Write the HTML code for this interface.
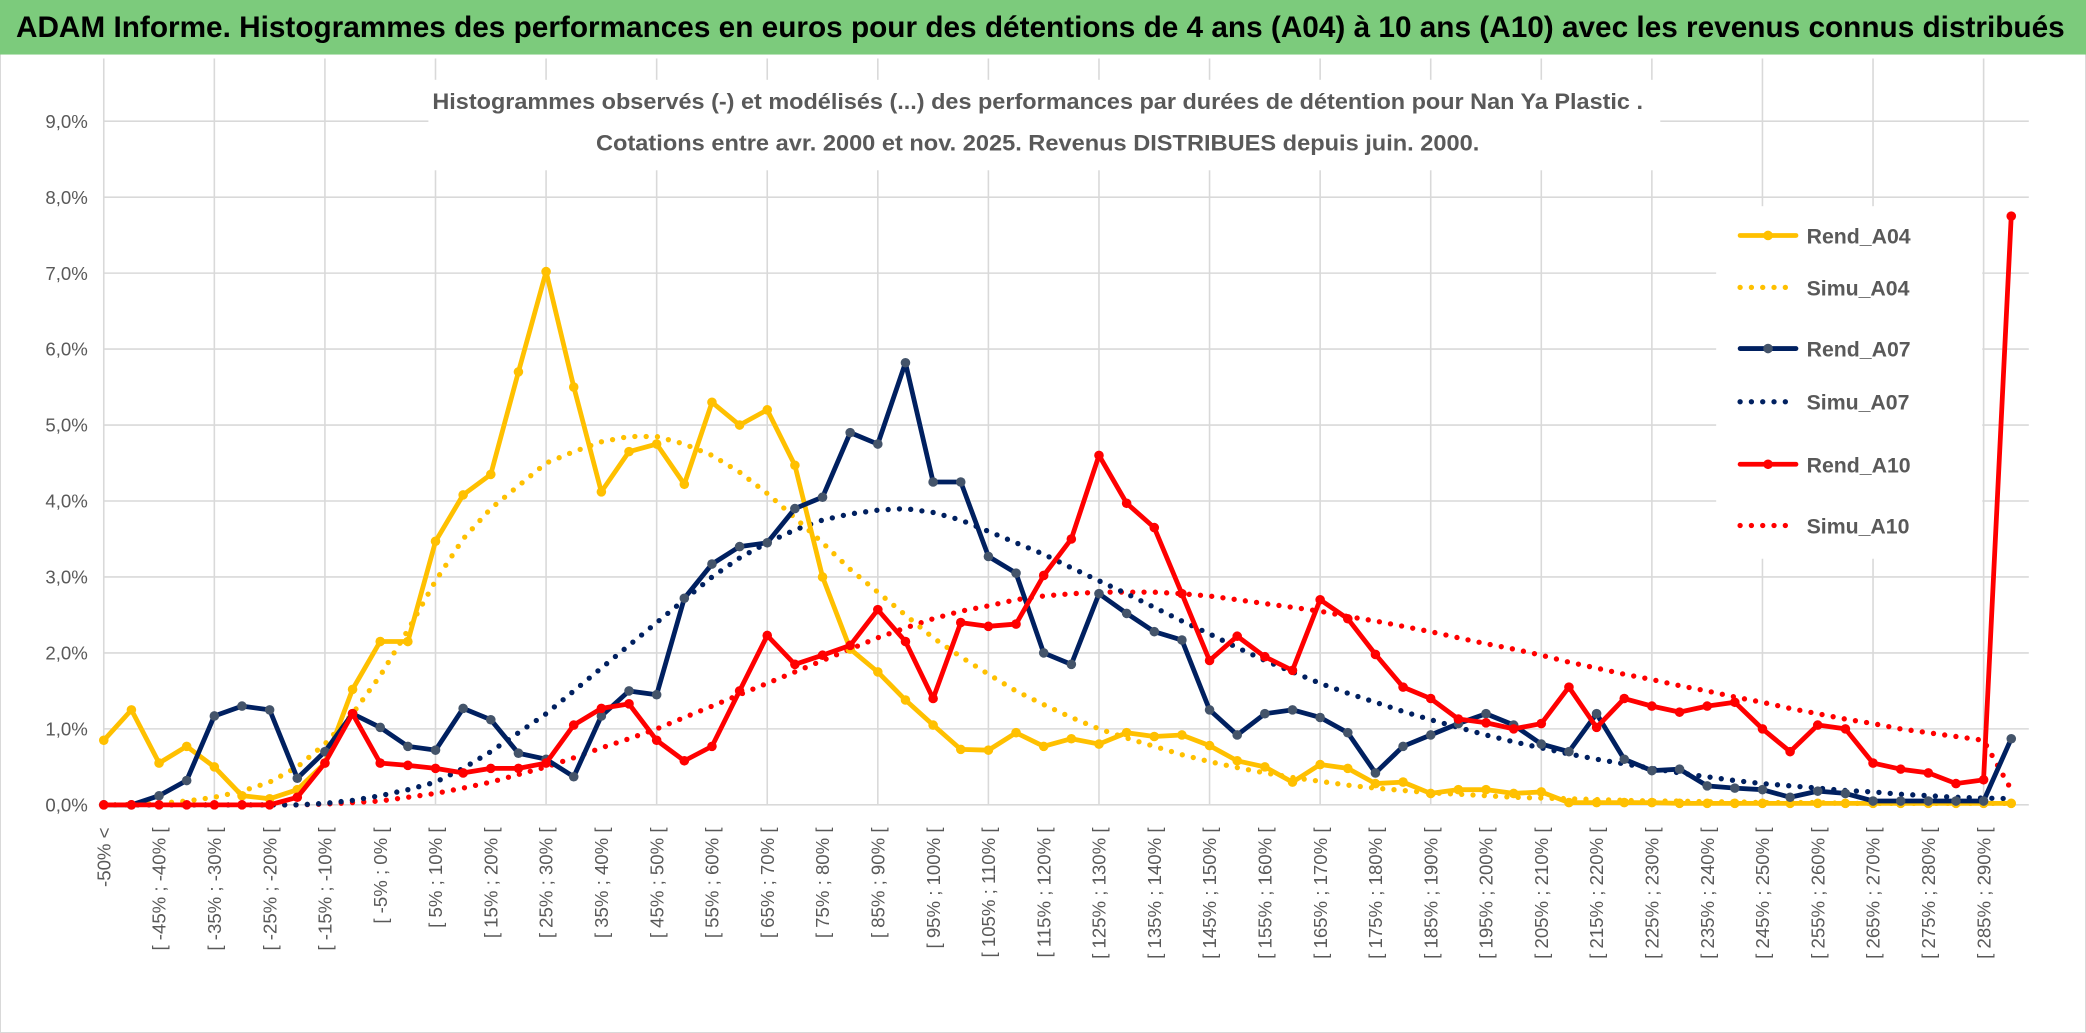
<!DOCTYPE html>
<html><head><meta charset="utf-8"><style>
html,body{margin:0;padding:0;background:#fff;}
svg{display:block;font-family:"Liberation Sans",sans-serif;}
</style></head><body>
<svg id="chart" width="2086" height="1033" viewBox="0 0 1568 776.5" preserveAspectRatio="none" xmlns="http://www.w3.org/2000/svg">
<rect x="0" y="0" width="1568" height="776.5" fill="#fff" stroke="#d9d9d9" stroke-width="1.5"/>
<rect x="0" y="0" width="1568" height="41" fill="#7ccb7c"/>
<text x="12" y="28" font-size="22" font-weight="bold" fill="#000" textLength="1540" lengthAdjust="spacingAndGlyphs">ADAM Informe. Histogrammes des performances en euros pour des détentions de 4 ans (A04) à 10 ans (A10) avec les revenus connus distribués</text>
<g id="grid"></g>
<g id="yaxis"></g>
<g id="xaxis"></g>
<rect x="322" y="60" width="926" height="68" fill="#fff"/>
<text x="780" y="82" font-size="17" font-weight="bold" fill="#595959" text-anchor="middle" textLength="910" lengthAdjust="spacingAndGlyphs">Histogrammes observés (-) et modélisés (...) des performances par durées de détention pour Nan Ya Plastic .</text>
<text x="780" y="113" font-size="17" font-weight="bold" fill="#595959" text-anchor="middle" textLength="664" lengthAdjust="spacingAndGlyphs">Cotations entre avr. 2000 et nov. 2025. Revenus DISTRIBUES depuis juin. 2000.</text>
<g id="series"></g>
<g id="legend"></g>
</svg>
<script>
const rendA04=[0.85,1.25,0.55,0.77,0.5,0.12,0.08,0.2,0.55,1.52,2.15,2.15,3.47,4.08,4.35,5.7,7.02,5.5,4.12,4.65,4.75,4.22,5.3,5.0,5.2,4.47,3.0,2.05,1.75,1.38,1.05,0.73,0.72,0.95,0.77,0.87,0.8,0.95,0.9,0.92,0.78,0.58,0.5,0.3,0.53,0.48,0.28,0.3,0.15,0.2,0.2,0.15,0.17,0.03,0.03,0.03,0.03,0.02,0.02,0.02,0.02,0.02,0.02,0.02,0.02,0.02,0.02,0.02,0.02,0.02];
const simuA04=[0,0,0.02,0.05,0.1,0.18,0.3,0.5,0.8,1.2,1.7,2.3,2.95,3.5,3.9,4.2,4.5,4.65,4.78,4.85,4.85,4.75,4.6,4.38,4.1,3.78,3.45,3.1,2.8,2.5,2.2,1.95,1.72,1.5,1.32,1.15,1.0,0.88,0.77,0.66,0.57,0.49,0.42,0.36,0.31,0.26,0.22,0.19,0.16,0.14,0.12,0.1,0.09,0.08,0.07,0.06,0.05,0.05,0.04,0.04,0.03,0.03,0.03,0.02,0.02,0.02,0.02,0.02,0.02,0.02];
const rendA07=[0,0,0.12,0.32,1.17,1.3,1.25,0.35,0.7,1.2,1.02,0.77,0.72,1.27,1.12,0.68,0.6,0.37,1.17,1.5,1.45,2.72,3.17,3.4,3.45,3.9,4.05,4.9,4.75,5.82,4.25,4.25,3.27,3.05,2.0,1.85,2.78,2.52,2.28,2.17,1.25,0.92,1.2,1.25,1.15,0.95,0.42,0.77,0.92,1.07,1.2,1.05,0.8,0.7,1.2,0.6,0.45,0.47,0.25,0.22,0.2,0.1,0.18,0.15,0.05,0.05,0.05,0.05,0.05,0.87];
const simuA07=[0,0,0,0,0,0,0,0,0.02,0.06,0.12,0.2,0.3,0.48,0.7,0.95,1.2,1.5,1.8,2.1,2.4,2.7,3.0,3.25,3.45,3.62,3.75,3.83,3.88,3.9,3.85,3.75,3.6,3.45,3.3,3.12,2.95,2.78,2.6,2.42,2.25,2.07,1.9,1.75,1.6,1.47,1.35,1.23,1.12,1.02,0.92,0.83,0.75,0.67,0.6,0.54,0.48,0.42,0.37,0.32,0.28,0.25,0.22,0.19,0.17,0.14,0.12,0.1,0.09,0.08];
const rendA10=[0,0,0,0,0,0,0,0.1,0.55,1.2,0.55,0.52,0.48,0.42,0.48,0.48,0.55,1.05,1.27,1.33,0.85,0.58,0.77,1.5,2.23,1.85,1.97,2.1,2.57,2.15,1.4,2.4,2.35,2.38,3.02,3.5,4.6,3.97,3.65,2.78,1.9,2.22,1.95,1.77,2.7,2.45,1.98,1.55,1.4,1.13,1.08,1.0,1.07,1.55,1.02,1.4,1.3,1.22,1.3,1.35,1.0,0.7,1.05,1.0,0.55,0.47,0.42,0.28,0.33,7.75];
const simuA10=[0,0,0,0,0,0,0,0,0.01,0.03,0.05,0.1,0.15,0.22,0.3,0.4,0.5,0.62,0.75,0.87,1.0,1.15,1.3,1.45,1.6,1.75,1.9,2.05,2.2,2.33,2.45,2.55,2.62,2.7,2.75,2.78,2.8,2.8,2.8,2.78,2.75,2.7,2.65,2.6,2.55,2.48,2.42,2.35,2.28,2.2,2.12,2.05,1.97,1.88,1.8,1.72,1.65,1.57,1.5,1.42,1.35,1.27,1.2,1.13,1.07,1.0,0.95,0.9,0.85,0.2];
const yTicks=[0,1,2,3,4,5,6,7,8,9];
const categories=["-50% <"];
for(let k=1;k<70;k++){const a=-50+5*(k-1),b=a+5;categories.push("[ "+a+"% ; "+b+"% [");}

const NS="http://www.w3.org/2000/svg";
const X0=78,DX=20.78,Y0=605,DY=57.1;
function xs(i){return X0+DX*i;}
function ys(v){return Y0-DY*v;}
function el(tag,attrs,parent){const e=document.createElementNS(NS,tag);for(const k in attrs)e.setAttribute(k,attrs[k]);parent.appendChild(e);return e;}

const grid=document.getElementById('grid');
for(let i=0;i<70;i+=4){
  const l=el('line',{x1:xs(i),x2:xs(i),y1:44,y2:ys(0),stroke:'#d9d9d9','stroke-width':1.2},grid);
  
  
}
const yax=document.getElementById('yaxis');
yTicks.forEach(t=>{
  if(t>0){const l=el('line',{x1:xs(0),x2:1525,y1:ys(t),y2:ys(t),stroke:'#d9d9d9','stroke-width':1.2},grid);
  
  }
  const tx=el('text',{x:66,y:ys(t)+5,'font-size':14,fill:'#595959','text-anchor':'end'},yax);
  tx.textContent=t.toFixed(1).replace('.',',')+'%';
  
  
});
const base=el('line',{x1:xs(0)-4,x2:1525,y1:ys(0),y2:ys(0),stroke:'#d9d9d9','stroke-width':1.2},grid);



const xax=document.getElementById('xaxis');
categories.forEach((c,i)=>{
  if(i%2!==0)return;
  const x=xs(i)+5,y=622;
  const tx=el('text',{x:x,y:y,'font-size':14,fill:'#595959','text-anchor':'end',transform:'rotate(-90 '+x+' '+y+')'},xax);
  tx.textContent=c;
  
  
});

const sg=document.getElementById('series');
function drawSeries(data,color,dotted,marker,name){
  const pts=data.map((v,i)=>xs(i).toFixed(1)+','+ys(v).toFixed(1)).join(' ');
  const attrs={points:pts,fill:'none',stroke:color,'stroke-linejoin':'round','stroke-linecap':'round'};
  if(dotted){attrs['stroke-width']=4;attrs['stroke-dasharray']='0 8.5';}else{attrs['stroke-width']=3.6;}
  const p=el('polyline',attrs,sg);
  
  
  if(marker){data.forEach((v,i)=>{
    const c=el('circle',{cx:xs(i),cy:ys(v),r:3.6,fill:marker},sg);
    
    
  });}
}
drawSeries(simuA10,'#ff0000',true,null,'simu-a10-line');
drawSeries(simuA07,'#002060',true,null,'simu-a07-line');
drawSeries(simuA04,'#ffc000',true,null,'simu-a04-line');
drawSeries(rendA04,'#ffc000',false,'#ffc000','rend-a04-line');
drawSeries(rendA07,'#002060',false,'#44546a','rend-a07-line');
drawSeries(rendA10,'#ff0000',false,'#ff0000','rend-a10-line');

const lg=document.getElementById('legend');
el('rect',{x:1290,y:155,width:200,height:265,fill:'#fff'},lg);
const legendItems=[['Rend_A04','#ffc000',false,'#ffc000',177],['Simu_A04','#ffc000',true,null,216],['Rend_A07','#002060',false,'#44546a',262],['Simu_A07','#002060',true,null,302],['Rend_A10','#ff0000',false,'#ff0000',349],['Simu_A10','#ff0000',true,null,395]];
legendItems.forEach(it=>{
  const g=el('g',{},lg);
  
  
  const a={x1:1308,x2:1350,y1:it[4],y2:it[4],stroke:it[1],'stroke-linecap':'round'};
  if(it[2]){a['stroke-width']=4;a['stroke-dasharray']='0 8.5';}else{a['stroke-width']=3.6;}
  el('line',a,g);
  if(it[3])el('circle',{cx:1329,cy:it[4],r:3.6,fill:it[3]},g);
  const t=el('text',{x:1358,y:it[4]+6,'font-size':16,'font-weight':'bold',fill:'#595959'},g);
  t.textContent=it[0];
});
</script>
</body></html>
